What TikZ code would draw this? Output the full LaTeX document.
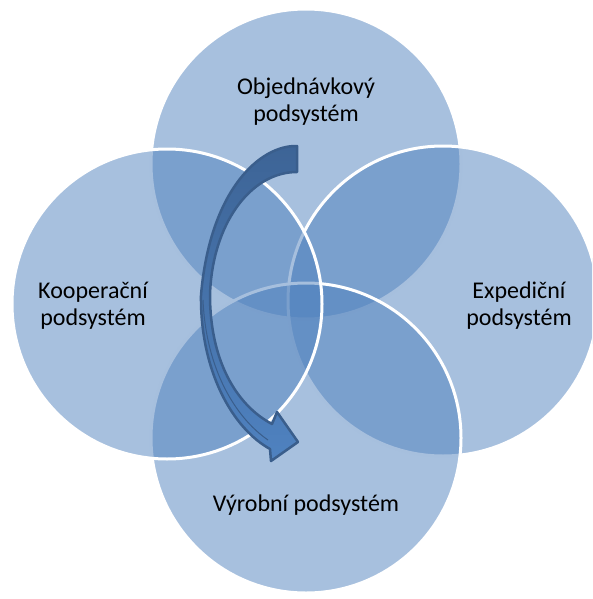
\documentclass[tikz,border=0pt]{standalone}
\usepackage{fontspec}
\setmainfont{Carlito}
\usetikzlibrary{positioning}
\definecolor{vennblue}{HTML}{4F81BD}
\definecolor{arrowtop}{HTML}{3D6496}
\definecolor{arrowbot}{HTML}{4F82C0}
\definecolor{arrowline}{HTML}{3A5E8C}

\begin{document}
\begin{tikzpicture}[x=1pt,y=-1pt, sub/.style={circle,minimum size=310pt,inner sep=0pt,fill=vennblue,fill opacity=0.5,draw=white,draw opacity=1,line width=3pt},lab/.style={align=center,font=\fontsize{24}{27}\selectfont,text=black}]
      \useasboundingbox (0,0) rectangle (592,599);
      \clip (0,0) rectangle (592,599);

      \node[sub] (obj) at (306,164) {};
      \node[sub] (exp) at (443,301) {};
      \node[sub] (vyr) at (306,438) {};
      \node[sub] (koo) at (167,304) {};

      % curved arrow
      \draw[draw=arrowline,line width=2.5pt,line join=round,top color=arrowtop,bottom color=arrowbot]
        (297,146) .. controls (260,145) and (210,190) .. (201,295)
        .. controls (200,370) and (232,428) .. (270,449)
        -- (271,461) -- (298,442) -- (277,412) -- (272,424)
        .. controls (236,405) and (210,360) .. (210,295)
        .. controls (212,225) and (250,172) .. (297,172) -- cycle;
      \draw[arrowline,line width=1pt] (203,300) .. controls (206,370) and (236,418) .. (268,440);

      \node[lab] (lobj) at (306,102) {Objednávkový\\podsystém};
      \node[lab] (lkoo) at (93,306) {Kooperační\\podsystém};
      \node[lab] (lexp) at (519,306) {Expediční\\podsystém};
      \node[lab] (lvyr) at (306,505) {Výrobní podsystém};
    \end{tikzpicture}
\end{document}
